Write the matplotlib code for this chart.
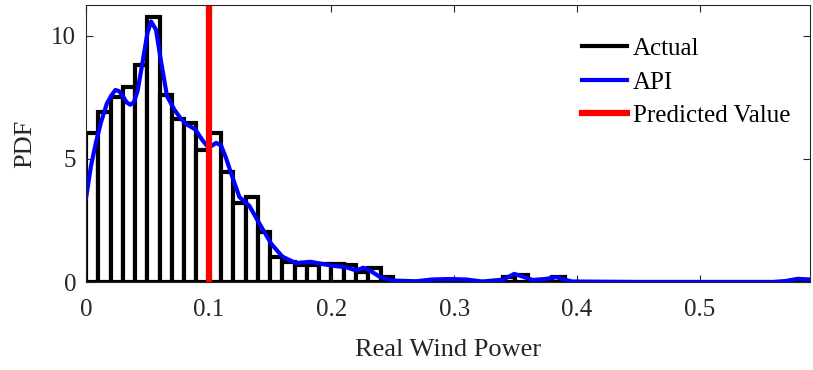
import numpy as np
import matplotlib
matplotlib.use('Agg')
from matplotlib import pyplot as plt

# histogram, bin width 0.01, starting at 0
bin_width = 0.01
hist_heights = [6.05, 6.9, 7.5, 7.9, 8.8, 10.75, 7.6, 6.6, 6.45, 5.35,
                6.05, 4.45, 3.2, 3.45, 2.05, 1.0, 0.8, 0.7, 0.7, 0.75,
                0.75, 0.7, 0.4, 0.55, 0.2, 0.0, 0.0, 0.0, 0.1, 0.1,
                0.1, 0.0, 0.0, 0.0, 0.2, 0.3, 0.1, 0.1, 0.2, 0.0,
                0.0, 0.0, 0.0, 0.0, 0.0, 0.0, 0.0, 0.0, 0.0, 0.0,
                0.0, 0.0, 0.0, 0.0, 0.0, 0.0, 0.0, 0.0, 0.1]

# API density curve
api_x = [0.0, 0.004, 0.008, 0.012, 0.017, 0.021, 0.024, 0.027, 0.030, 0.033,
         0.036, 0.039, 0.042, 0.046, 0.050, 0.053, 0.057, 0.061, 0.066, 0.072,
         0.077, 0.082, 0.089, 0.095, 0.100, 0.106, 0.110, 0.114, 0.118, 0.125,
         0.133, 0.141, 0.151, 0.160, 0.171, 0.183, 0.201, 0.212, 0.220, 0.226,
         0.232, 0.239, 0.250, 0.269, 0.282, 0.295, 0.310, 0.323, 0.340, 0.349,
         0.357, 0.364, 0.374, 0.383, 0.390, 0.396, 0.45, 0.50, 0.56, 0.570,
         0.580, 0.590]
api_y = [3.4, 4.7, 5.65, 6.45, 7.25, 7.6, 7.8, 7.75, 7.55, 7.3,
         7.2, 7.3, 7.75, 8.9, 10.1, 10.58, 10.25, 9.0, 7.55, 7.0,
         6.65, 6.4, 6.2, 5.75, 5.45, 5.65, 5.55, 5.05, 4.45, 3.45,
         3.1, 2.4, 1.55, 1.03, 0.77, 0.82, 0.66, 0.6, 0.47, 0.58,
         0.45, 0.22, 0.06, 0.03, 0.1, 0.12, 0.1, 0.02, 0.1, 0.33,
         0.2, 0.08, 0.12, 0.2, 0.1, 0.02, 0.0, 0.0, 0.0, 0.04,
         0.13, 0.1]

predicted = 0.1

plt.rcParams['font.family'] = ['Liberation Serif', 'DejaVu Serif']
grey = '#262626'

fig = plt.figure(figsize=(8.13, 3.70), dpi=100)
ax = fig.add_axes([0.1058, 0.2378, 0.8905, 0.7487])

edges = np.arange(len(hist_heights)) * bin_width
ax.bar(edges, hist_heights, width=bin_width, align='edge', color='white',
       edgecolor='black', linewidth=3)
ax.plot(api_x, api_y, color='#0000ff', linewidth=3, solid_joinstyle='round')
ax.axvline(predicted, color='#ff0000', linewidth=4.5)

# legend handles
h1, = ax.plot([], [], color='black', linewidth=3)
h2, = ax.plot([], [], color='#0000ff', linewidth=3)
h3, = ax.plot([], [], color='#ff0000', linewidth=4.5)
ax.legend([h1, h2, h3], ['Actual', 'API', 'Predicted Value'], loc='upper right',
          frameon=False, fontsize=18, handlelength=1.8, handletextpad=0.25,
          labelspacing=0.44, borderaxespad=0, bbox_to_anchor=(0.987, 0.918))

ax.set_xlim(0, 0.59)
ax.set_ylim(0, 11.25)
ax.set_xticks([0, 0.1, 0.2, 0.3, 0.4, 0.5])
ax.set_xticklabels(['0', '0.1', '0.2', '0.3', '0.4', '0.5'])
ax.set_yticks([0, 5, 10])
ax.tick_params(direction='in', top=True, right=True, labelsize=18, length=5,
               width=0.8, colors=grey)
ax.tick_params(axis='x', pad=12)
ax.tick_params(axis='y', pad=7)
for s in ax.spines.values():
    s.set_color(grey)
    s.set_linewidth(0.8)
ax.set_xlabel('Real Wind Power', fontsize=19, color=grey, labelpad=13)
ax.set_ylabel('PDF', fontsize=19, color=grey, labelpad=11)

fig.savefig('out.png', dpi=100)
